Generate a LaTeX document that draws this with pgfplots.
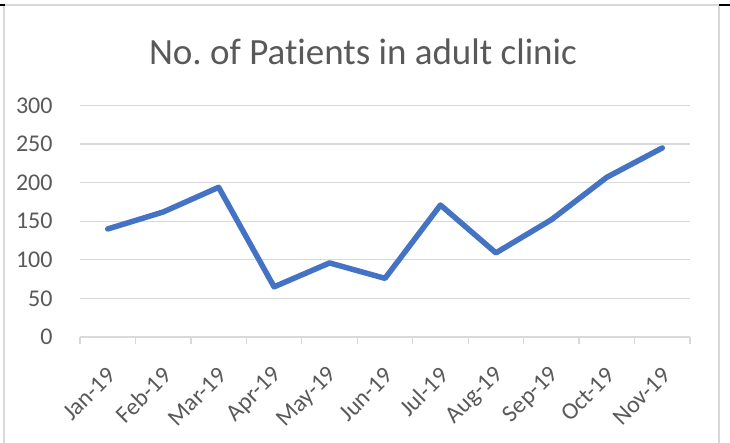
\documentclass[border=0pt]{standalone}
\usepackage{fontspec}
\setmainfont{Carlito}[RawFeature={-liga;-dlig}]
\usepackage{pgfplots}
\pgfplotsset{compat=1.18}
\definecolor{txtc}{HTML}{595959}
\definecolor{gridc}{HTML}{D9D9D9}
\definecolor{linec}{HTML}{4472C4}
\frenchspacing
\begin{document}
\begin{tikzpicture}[x=1pt,y=1pt]
\useasboundingbox (0,0) rectangle (730,442);
\draw[gridc, line width=1.5pt] (4,-5) -- (4,437) -- (719,437) -- (719,-5);
\draw[black, line width=1.5pt] (0,437)--(5,437) (719,437)--(730,437);
\node[txtc, font=\fontsize{37}{44}\selectfont] at (363,390) {No.\ of Patients in adult clinic};
\begin{axis}[
  at={(80pt,105pt)}, anchor=south west,
  scale only axis, width=610pt, height=231.5pt,
  xmin=-0.5, xmax=10.5, ymin=0, ymax=300,
  ytick={0,50,...,300},
  ymajorgrids, grid style={gridc, line width=1.3pt},
  axis line style={draw=none},
  xtick={0,...,10},
  xticklabels={Jan-19,Feb-19,Mar-19,Apr-19,May-19,Jun-19,Jul-19,Aug-19,Sep-19,Oct-19,Nov-19},
  major x tick style={draw=none},
  minor xtick={-0.5,0.5,...,10.5},
  minor tick length=7pt,
  minor x tick style={gridc, line width=1.3pt},
  tick align=outside,
  xtick pos=bottom, ytick pos=left,
  major y tick style={draw=none},
  /pgf/number format/assume math mode=true,
  yticklabel style={txtc, font=\fontsize{24}{28}\selectfont, anchor=east, inner sep=0pt, xshift=-23pt},
  xticklabel style={txtc, font=\fontsize{24}{28}\selectfont, xshift=4pt, yshift=-30pt, rotate=45, anchor=east, inner sep=0pt},
  clip=false,
]
\addplot[linec, line width=5.5pt, line cap=round, line join=round] coordinates {
  (0,140) (1,162) (2,194) (3,65) (4,96) (5,76) (6,171) (7,109) (8,152) (9,207) (10,245)
};
\end{axis}
\end{tikzpicture}
\end{document}
